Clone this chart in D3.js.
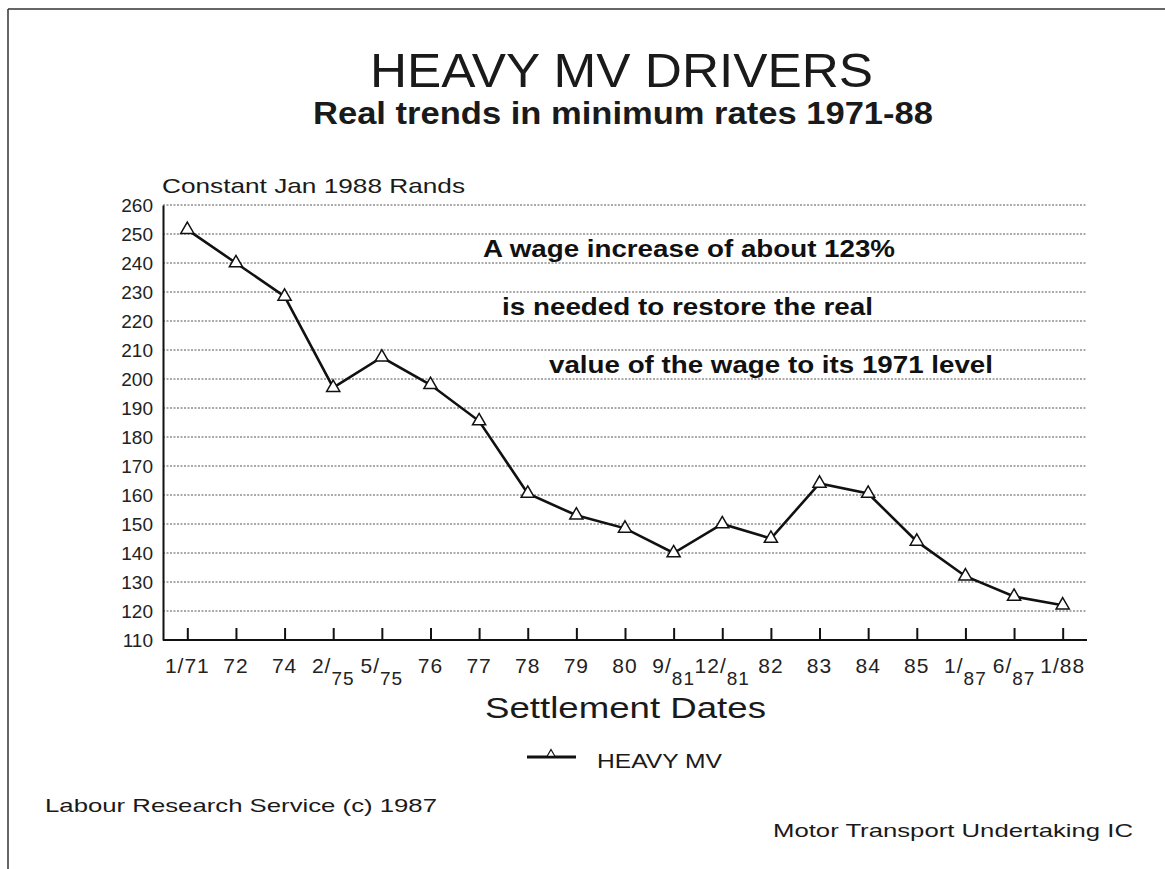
<!DOCTYPE html>
<html>
<head>
<meta charset="utf-8">
<script src="https://cdn.jsdelivr.net/npm/d3@7"></script>
<style>
  body { margin: 0; background: #fff; }
  svg { display: block; }
</style>
</head>
<body>
<div id="chart"></div>
<script>
"use strict";

// Settlement dates (categories) and real minimum rates
const categories = ["1/71", "72", "74", "2/75", "5/75", "76", "77", "78", "79", "80",
  "9/81", "12/81", "82", "83", "84", "85", "1/87", "6/87", "1/88"];
const tickMain = ["1/71", "72", "74", "2/", "5/", "76", "77", "78", "79", "80",
  "9/", "12/", "82", "83", "84", "85", "1/", "6/", "1/88"];
const tickSub = ["", "", "", "75", "75", "", "", "", "", "",
  "81", "81", "", "", "", "", "87", "87", ""];
const heavyMV = [251.5, 240, 228.5, 197, 207.5, 198, 185.5, 160.5, 153, 148.5,
  140, 150, 145, 164, 160.5, 144, 132, 125, 122];
const yTicks = d3.range(110, 261, 10);
const noteLines = ["A wage increase of about 123%", "is needed to restore the real",
  "value of the wage to its 1971 level"];

const width = 1165;
const height = 869;
const plotLeft = 163, plotRight = 1087, plotTop = 205, plotBottom = 640;

const svg = d3.select("#chart").append("svg")
  .attr("width", width)
  .attr("height", height)
  .style("font-family", "'Liberation Sans', Arial, sans-serif");

// petite fonction pour les textes étirés à la largeur du scan
function label(xPos, yPos, txt, size, len, anchor) {
  return svg.append("text")
    .attr("x", xPos).attr("y", yPos)
    .attr("text-anchor", anchor || "start")
    .attr("textLength", len)
    .attr("lengthAdjust", "spacingAndGlyphs")
    .style("font-size", size + "px")
    .style("fill", "#1a1a1a")
    .text(txt);
}

// cadre
svg.append("line").attr("x1", 8).attr("x2", width).attr("y1", 9).attr("y2", 9)
  .attr("stroke", "#333").attr("stroke-width", 1.5);
svg.append("line").attr("x1", 8).attr("x2", 8).attr("y1", 9).attr("y2", height)
  .attr("stroke", "#333").attr("stroke-width", 1.5);

const x = d3.scalePoint().domain(categories).range([plotLeft, plotRight]).padding(0.5);
const y = d3.scaleLinear().domain([110, 260]).range([plotBottom, plotTop]);

// titres
label(370, 87, "HEAVY MV DRIVERS", 48, 503);
label(313, 124, "Real trends in minimum rates 1971-88", 31, 620)
  .style("font-weight", "bold");
label(162, 193, "Constant Jan 1988 Rands", 21, 303);

// lignes de grille pointillées
svg.append("g").selectAll("line")
  .data(yTicks.filter((d) => d > 110))
  .join("line")
  .attr("x1", plotLeft).attr("x2", plotRight)
  .attr("y1", (d) => y(d)).attr("y2", (d) => y(d))
  .attr("stroke", "#555")
  .attr("stroke-width", 1)
  .attr("stroke-dasharray", "2,1.5");

// axe Y
const yAxis = svg.append("g")
  .attr("transform", `translate(${plotLeft},0)`)
  .call(d3.axisLeft(y).tickValues(yTicks).tickSize(0).tickPadding(10));
yAxis.select(".domain").attr("stroke", "#111").attr("stroke-width", 2);
yAxis.selectAll("text")
  .style("font-family", "'Liberation Sans', Arial, sans-serif")
  .style("font-size", "19px").style("fill", "#222");

// axe X
const xAxis = svg.append("g")
  .attr("transform", `translate(0,${plotBottom})`)
  .call(d3.axisBottom(x).tickSize(-12).tickSizeOuter(0).tickFormat(""));
xAxis.select(".domain").attr("stroke", "#111").attr("stroke-width", 2)
  .attr("d", `M${plotLeft},0H${plotRight}`);
xAxis.selectAll(".tick line").attr("stroke", "#111").attr("stroke-width", 2);

const tickLabels = svg.append("g").selectAll("text")
  .data(categories)
  .join("text")
  .attr("x", (d) => x(d))
  .attr("y", 673)
  .attr("text-anchor", "middle")
  .style("font-size", "21px")
  .style("letter-spacing", "1px")
  .style("fill", "#222");
tickLabels.append("tspan").text((d, i) => tickMain[i]);
tickLabels.append("tspan")
  .attr("dy", (d, i) => (tickSub[i] ? 12 : 0))
  .style("font-size", "19px")
  .text((d, i) => tickSub[i]);

label(485, 718, "Settlement Dates", 30, 281);

// note
svg.append("g").selectAll("text")
  .data(noteLines)
  .join("text")
  .attr("x", (d, i) => [483, 502, 549][i])
  .attr("y", (d, i) => 257 + i * 58)
  .attr("textLength", (d, i) => [412, 371, 444][i])
  .attr("lengthAdjust", "spacingAndGlyphs")
  .style("font-weight", "bold")
  .style("font-size", "23px").style("fill", "#111")
  .text((d) => d);

// série
const line = d3.line()
  .x((d, i) => x(categories[i]))
  .y((d) => y(d));

svg.append("path")
  .datum(heavyMV)
  .attr("d", line)
  .attr("fill", "none")
  .attr("stroke", "#111")
  .attr("stroke-width", 2.6);

const tri = d3.symbol().type(d3.symbolTriangle).size(75);
svg.append("g").selectAll("path")
  .data(heavyMV)
  .join("path")
  .attr("d", tri)
  .attr("transform", (d, i) => `translate(${x(categories[i])},${y(d)})`)
  .attr("fill", "#fff")
  .attr("stroke", "#111")
  .attr("stroke-width", 1.5);

// légende
svg.append("line").attr("x1", 527).attr("x2", 576).attr("y1", 757).attr("y2", 757)
  .attr("stroke", "#111").attr("stroke-width", 3);
svg.append("path").attr("d", tri).attr("transform", "translate(551,754) scale(0.6)")
  .attr("fill", "#fff").attr("stroke", "#111").attr("stroke-width", 2);
label(597, 768, "HEAVY MV", 20, 125);

// sources
label(45, 812, "Labour Research Service (c) 1987", 19, 392);
label(773, 837, "Motor Transport Undertaking IC", 19, 360);
</script>
</body>
</html>
